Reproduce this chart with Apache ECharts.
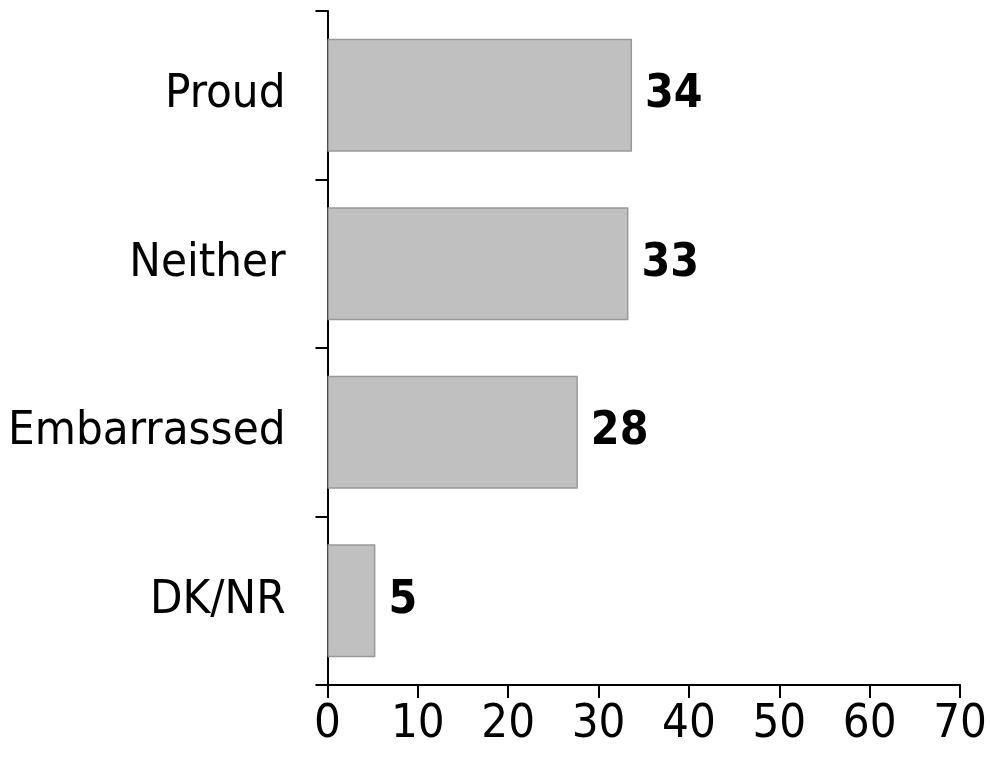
<!DOCTYPE html>
<html>
<head>
<meta charset="utf-8">
<script src="https://cdn.jsdelivr.net/npm/echarts@6/dist/echarts.min.js"></script>
<style>html,body{margin:0;padding:0;background:#fff}#c{width:990px;height:760px}</style>
</head>
<body>
<div id="c"></div>
<script>
const categories = ["Proud", "Neither", "Embarrassed", "DK/NR"];
const values = [33.7, 33.3, 27.7, 5.3];
const xTicks = [0, 10, 20, 30, 40, 50, 60, 70];

const chart = echarts.init(document.getElementById('c'), null, {renderer: 'canvas'});
const font = '"DejaVu Sans Condensed", "DejaVu Sans", sans-serif';
chart.setOption({
  animation: false,
  grid: {left: 327.5, right: 24, top: 11, bottom: 75, containLabel: false},
  xAxis: {
    type: 'value', min: xTicks[0], max: xTicks[xTicks.length - 1], interval: 10,
    axisLine: {show: true, lineStyle: {color: '#000', width: 2}},
    axisTick: {show: true, length: 13, lineStyle: {color: '#000', width: 2}},
    splitLine: {show: false},
    axisLabel: {color: '#000', fontSize: 47, fontFamily: font, margin: 16, showMaxLabel: true}
  },
  yAxis: {
    type: 'category', data: categories, inverse: true,
    axisLine: {show: true, lineStyle: {color: '#000', width: 2}},
    axisTick: {show: true, length: 12, lineStyle: {color: '#000', width: 2}},
    axisLabel: {color: '#000', fontSize: 47, fontFamily: font, margin: 42}
  },
  series: [{
    type: 'bar', data: values, barCategoryGap: '33%',
    itemStyle: {color: '#c0c0c0', borderColor: '#999', borderWidth: 1.5},
    label: {show: true, position: 'right', distance: 13, color: '#000', fontSize: 46, fontWeight: 'bold', fontFamily: font,
      formatter: p => Math.round(p.value)}
  }]
});
</script>
</body>
</html>
